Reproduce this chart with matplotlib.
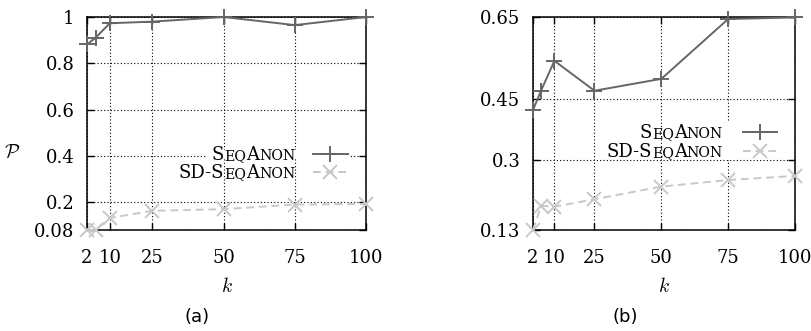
"""
Two-panel line chart of P versus k for SeqAnon and SD-SeqAnon.
"""
import matplotlib
matplotlib.use("Agg")
import matplotlib.pyplot as plt
from matplotlib.patches import Rectangle
from matplotlib.lines import Line2D

plt.rcParams['font.family'] = ['DejaVu Serif']
plt.rcParams['mathtext.fontset'] = 'cm'

k_values = [2, 5, 10, 25, 50, 75, 100]
x_ticks = [2, 10, 25, 50, 75, 100]

# panel (a)
seqanon_a = [0.882, 0.91, 0.973, 0.98, 1.0, 0.965, 1.0]
sdseqanon_a = [0.08, 0.08, 0.132, 0.163, 0.17, 0.19, 0.192]
y_ticks_a = [0.08, 0.2, 0.4, 0.6, 0.8, 1]
y_labels_a = ["0.08", "0.2", "0.4", "0.6", "0.8", "1"]

# panel (b)
seqanon_b = [0.423, 0.47, 0.543, 0.47, 0.499, 0.645, 0.649]
sdseqanon_b = [0.13, 0.189, 0.187, 0.205, 0.236, 0.252, 0.262]
y_ticks_b = [0.13, 0.3, 0.45, 0.65]
y_labels_b = ["0.13", "0.3", "0.45", "0.65"]

DARK = '#666666'
LIGHT = '#c8c8c8'
FS = 13


def smallcaps(ax, word, x_right, y_base, size=FS):
    # small caps: runs of lower case letters drawn as smaller capitals,
    # placed right to left on a common baseline
    runs = []
    for ch in word:
        upper = not ch.islower()
        if runs and runs[-1][1] == upper:
            runs[-1][0] += ch
        else:
            runs.append([ch, upper])
    prev = None
    for txt, upper in reversed(runs):
        sz = size if upper else size * 0.78
        if prev is None:
            prev = ax.text(x_right, y_base, txt.upper(), transform=ax.transAxes,
                           ha='right', va='baseline', fontsize=sz, zorder=4)
        else:
            prev = ax.annotate(txt.upper(), xy=(0, y_base), xycoords=(prev, ax.transAxes),
                               ha='right', va='baseline', fontsize=sz, zorder=4)


def draw_panel(ax, sa, sd, yticks, ylabels, ylim, key_pos, mask):
    for xt in x_ticks:
        ax.axvline(xt, color='black', lw=0.8, ls=(0, (1, 2)), zorder=1)
    for yt in yticks:
        ax.axhline(yt, color='black', lw=0.8, ls=(0, (1, 2)), zorder=1)
    ax.add_patch(Rectangle((mask[0], mask[1]), mask[2], mask[3], transform=ax.transAxes,
                           facecolor='white', edgecolor='none', zorder=1.5))

    ax.plot(k_values, sa, color=DARK, lw=1.4, marker='+', ms=11, mew=1.4,
            clip_on=False, zorder=3)
    ax.plot(k_values, sd, color=LIGHT, lw=1.4, ls=(0, (4, 2.5)), marker='x', ms=10,
            mew=1.4, clip_on=False, zorder=3)

    ax.set_xlim(2, 100)
    ax.set_ylim(*ylim)
    ax.set_xticks(x_ticks)
    ax.set_xticklabels([str(t) for t in x_ticks])
    ax.set_yticks(yticks)
    ax.set_yticklabels(ylabels)
    ax.tick_params(direction='in', length=5, width=1, top=True, right=True,
                   labelsize=FS)
    ax.tick_params(axis='x', pad=14)
    ax.tick_params(axis='y', pad=9)
    for sp in ax.spines.values():
        sp.set_linewidth(1.1)
    ax.set_xlabel(r'$k$', fontsize=FS + 1, labelpad=7)

    # key
    tx, hx0, hx1, y1, y2 = key_pos
    for label, y, col, mk, ls, ms in [("SeqAnon", y1, DARK, '+', '-', 11),
                                      ("SD-SeqAnon", y2, LIGHT, 'x', (0, (4, 2.5)), 10)]:
        smallcaps(ax, label, tx, y - 0.03)
        ax.add_line(Line2D([hx0, hx1], [y, y], transform=ax.transAxes, color=col,
                           lw=1.4, ls=ls, zorder=3))
        ax.add_line(Line2D([(hx0 + hx1) / 2], [y], transform=ax.transAxes, color=col,
                           marker=mk, ms=ms, mew=1.4, ls='none', zorder=3))


fig = plt.figure(figsize=(8.12, 3.31), dpi=100)
W, H = 812, 331
ax_a = fig.add_axes([87 / W, 101 / H, 279 / W, 213 / H])
ax_b = fig.add_axes([533 / W, 101 / H, 262 / W, 213 / H])

draw_panel(ax_a, seqanon_a, sdseqanon_a, y_ticks_a, y_labels_a, (0.08, 1),
           (0.746, 0.81, 0.935, 0.357, 0.272), (0.43, 0.335, 0.51, 0.04))
draw_panel(ax_b, seqanon_b, sdseqanon_b, y_ticks_b, y_labels_b, (0.13, 0.65),
           (0.725, 0.80, 0.93, 0.46, 0.371), (0.73, 0.33, 0.03, 0.18))

fig.text(12 / W, 1 - 153 / H, r'$\mathcal{P}$', fontsize=FS + 1, ha='center', va='center')
fig.text(197 / W, 1 - 317 / H, '(a)', fontsize=FS, ha='center', va='center',
         family='DejaVu Sans')
fig.text(625 / W, 1 - 317 / H, '(b)', fontsize=FS, ha='center', va='center',
         family='DejaVu Sans')

fig.savefig('out.png', dpi=100)
